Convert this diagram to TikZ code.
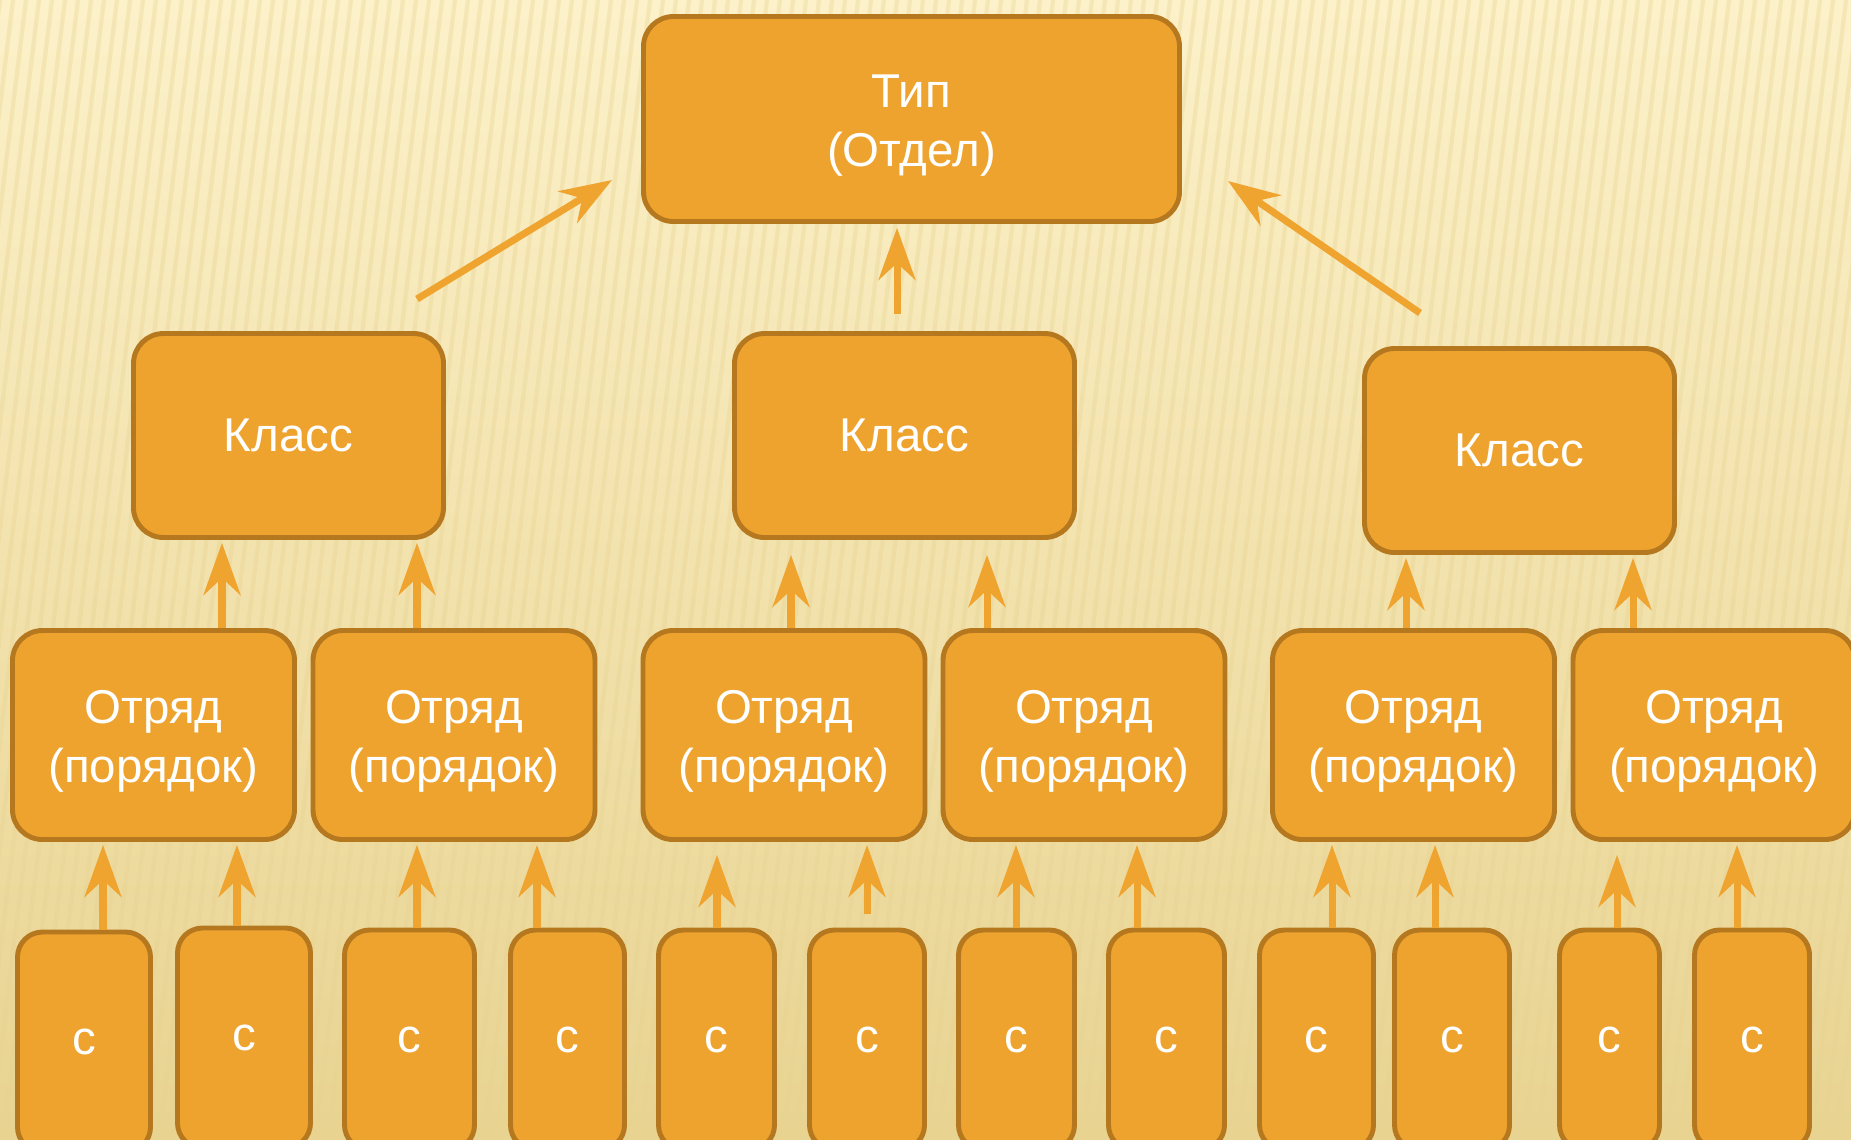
\documentclass[tikz,border=0pt]{standalone}
\usepackage{fontspec}
\setmainfont{Liberation Sans}
\usepackage{tikz}
\usetikzlibrary{arrows.meta,calc,positioning}
\definecolor{boxfill}{HTML}{EEA32F}
\definecolor{boxline}{HTML}{B5781F}
\definecolor{arrowc}{HTML}{F0A430}
\definecolor{bgtop}{HTML}{FCF1C9}
\definecolor{bgbot}{HTML}{E8D391}
\newcommand{\twoline}[2]{\raisebox{-1.8pt}[\height][\depth]{\begin{tabular}{@{}c@{}}#1\\#2\end{tabular}}}
\tikzset{
	box/.style={draw=boxline, fill=boxfill, line width=1.4pt, rounded corners=0.3cm,
		text=white, align=center, inner sep=0pt, font=\fontsize{13.5}{16.8}\selectfont},
	rank/.style={box, minimum width=2.82cm, minimum height=2.09cm},
	leaf/.style={box, rounded corners=0.25cm, minimum height=2.2cm},
	arr/.style={arrowc, line width=2pt, -{Stealth[length=0.52cm, width=0.37cm, inset=0.17cm]}},
	stripe/.style={bgbot, line width=1.2pt, opacity=0.35},
}

\begin{document}
\begin{tikzpicture}
			\useasboundingbox (0,0) rectangle (18.51,-11.39);
			\clip (0,0) rectangle (18.51,-11.39);
			% background
			\shade[top color=bgtop, bottom color=bgbot] (0,0) rectangle (18.51,-11.39);
			\foreach \i in {0,...,170}
				\draw[stripe] ({\i*0.13-1.4},-11.39) -- ({\i*0.13},0);
			% top
			\node[box, minimum width=5.36cm, minimum height=2.05cm] (tip) at (9.115,-1.19) {\twoline{Тип}{(Отдел)}};
			% classes
			\node[box, minimum width=3.10cm, minimum height=2.04cm] (k1) at (2.885,-4.355) {Класс};
			\node[box, minimum width=3.40cm, minimum height=2.04cm] (k2) at (9.045,-4.355) {Класс};
			\node[box, minimum width=3.10cm, minimum height=2.04cm] (k3) at (15.195,-4.505) {Класс};
			% orders
			\node[rank] (o1) at (1.535,-7.35) {\twoline{Отряд}{(порядок)}};
			\node[rank] (o2) at (4.54,-7.35) {\twoline{Отряд}{(порядок)}};
			\node[rank] (o3) at (7.84,-7.35) {\twoline{Отряд}{(порядок)}};
			\node[rank] (o4) at (10.84,-7.35) {\twoline{Отряд}{(порядок)}};
			\node[rank] (o5) at (14.135,-7.35) {\twoline{Отряд}{(порядок)}};
			\node[rank] (o6) at (17.14,-7.35) {\twoline{Отряд}{(порядок)}};
			% bottom row
			\foreach \n/\x/\w/\y in {c1/0.84/1.33/-10.42, c2/2.44/1.33/-10.38, c3/4.095/1.30/-10.40,
				c4/5.675/1.14/-10.40, c5/7.165/1.16/-10.40, c6/8.67/1.15/-10.40,
				c7/10.165/1.16/-10.40, c8/11.665/1.16/-10.40, c9/13.165/1.14/-10.40,
				c10/14.52/1.15/-10.40, c11/16.095/1.00/-10.40, c12/17.52/1.15/-10.40}
				\node[leaf, minimum width=\w cm] (\n) at (\x,\y) {с};
			% arrows to the orders
			\foreach \c/\o/\x/\e in {c1/o1/1.03/0.03, c2/o1/2.37/0.03, c3/o2/4.17/0.03, c4/o2/5.37/0.03,
				c5/o3/7.17/0.13, c7/o4/10.16/0.03, c8/o4/11.37/0.03,
				c9/o5/13.32/0.03, c10/o5/14.35/0.03, c11/o6/16.17/0.13, c12/o6/17.37/0.03}
				\draw[arr, shorten >=\e cm] (\x,0 |- \c.north) -- (\x,0 |- \o.south);
			\draw[arr, shorten <=0.14cm, shorten >=0.03cm] (8.67,0 |- c6.north) -- (8.67,0 |- o3.south);
			% arrows to the classes
			\foreach \o/\k/\x/\e in {o1/k1/2.22/0.03, o2/k1/4.17/0.03, o3/k2/7.91/0.15,
				o4/k2/9.87/0.15, o5/k3/14.06/0.03, o6/k3/16.33/0.03}
				\draw[arr, shorten >=\e cm] (\x,0 |- \o.north) -- (\x,0 |- \k.south);
			% arrows to the top
			\coordinate (s1) at (4.17,-2.99);
			\coordinate (e1) at (6.12,-1.80);
			\coordinate (s2) at (8.97,-3.14);
			\coordinate (s3) at (14.20,-3.13);
			\coordinate (e3) at (12.28,-1.81);
			\draw[arr] (s1) -- (e1);
			\draw[arr, shorten >=0.04cm] (s2) -- (s2 |- tip.south);
			\draw[arr] (s3) -- (e3);
\end{tikzpicture}
\end{document}
